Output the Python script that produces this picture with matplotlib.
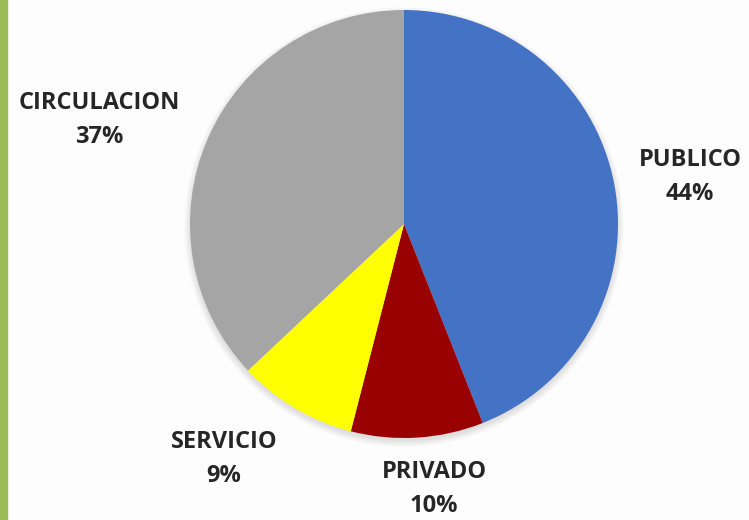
import matplotlib
matplotlib.use("Agg")
import matplotlib.pyplot as plt
from matplotlib.patches import Circle, Rectangle

categories = ["PUBLICO", "PRIVADO", "SERVICIO", "CIRCULACION"]
values = [44, 10, 9, 37]
colors = ["#4472C4", "#990000", "#FFFF00", "#A5A5A5"]

W, H = 749, 520
fig = plt.figure(figsize=(W / 100, H / 100), dpi=100)
fig.patch.set_facecolor("#FDFDFD")
ax = fig.add_axes([0, 0, 1, 1])

# green frame strip on the left
ax.add_patch(Rectangle((0, 0), 7, H, color="#9BBB59", zorder=5))

cx, cy, r = 404, 296, 214

# soft shadow under the pie
for i in range(10):
    ax.add_patch(Circle((cx, cy - 3), r + 6 - i * 0.7, color="black",
                        alpha=0.012, lw=0, zorder=1))

wedges, _ = ax.pie(values, colors=colors, startangle=90, counterclock=False,
                   center=(cx, cy), radius=r, frame=True,
                   wedgeprops=dict(linewidth=0, zorder=2))
ax.set_xlim(0, W)
ax.set_ylim(0, H)
ax.set_aspect("equal")
ax.axis("off")

# label anchor points (pixel layout)
label_pos = {
    "PUBLICO": (690, 520 - 177),
    "PRIVADO": (434, 520 - 489),
    "SERVICIO": (224, 520 - 459),
    "CIRCULACION": (99, 520 - 120),
}
for name, val in zip(categories, values):
    x, y = label_pos[name]
    ax.text(x, y, f"{name}\n{val}%", ha="center", va="center",
            fontsize=17, fontweight="bold", family=["Open Sans", "DejaVu Sans"],
            color="#262626", linespacing=1.55, zorder=6)

fig.savefig("out.png", dpi=100, facecolor=fig.get_facecolor())
